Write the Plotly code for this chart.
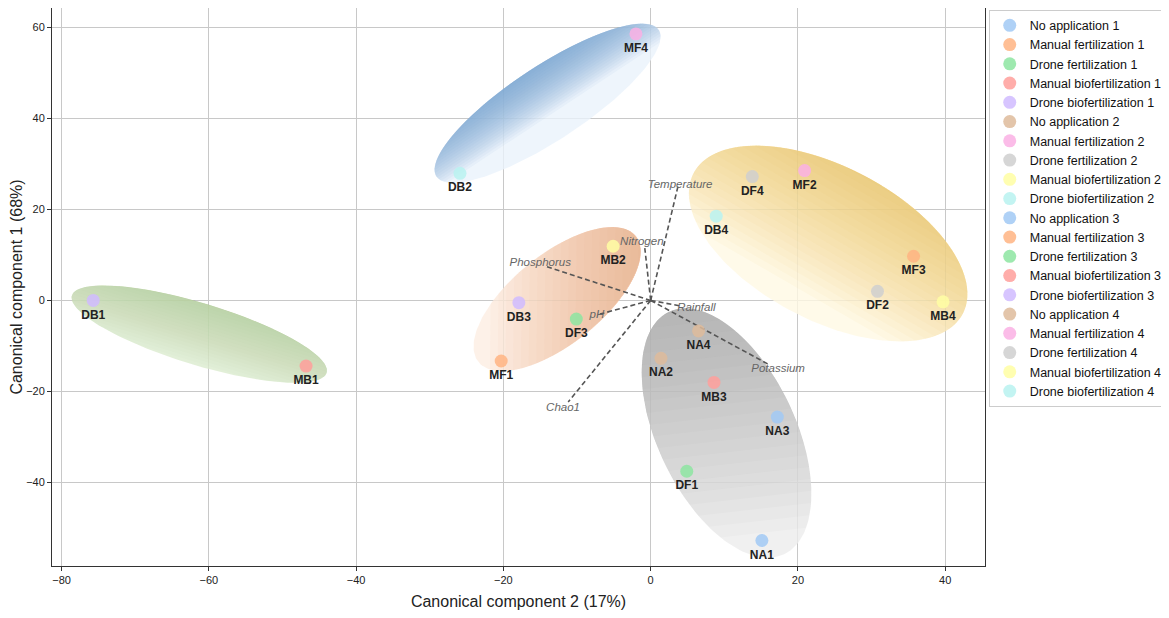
import numpy as np
import plotly.graph_objects as go

# sample scores on the two canonical components
sample_codes = ["NA1", "MF1", "DF1", "MB1", "DB1",
                "NA2", "MF2", "DF2", "MB2", "DB2",
                "NA3", "MF3", "DF3", "MB3", "DB3",
                "NA4", "MF4", "DF4", "MB4", "DB4"]
legend_names = ["No application 1", "Manual fertilization 1", "Drone fertilization 1",
                "Manual biofertilization 1", "Drone biofertilization 1",
                "No application 2", "Manual fertilization 2", "Drone fertilization 2",
                "Manual biofertilization 2", "Drone biofertilization 2",
                "No application 3", "Manual fertilization 3", "Drone fertilization 3",
                "Manual biofertilization 3", "Drone biofertilization 3",
                "No application 4", "Manual fertilization 4", "Drone fertilization 4",
                "Manual biofertilization 4", "Drone biofertilization 4"]
cc2 = [15.1, -20.3, 4.9, -46.8, -75.7,
       1.4, 20.9, 30.8, -5.1, -25.9,
       17.2, 35.7, -10.1, 8.6, -17.9,
       6.5, -2.0, 13.8, 39.7, 8.9]
cc1 = [-52.7, -13.3, -37.5, -14.4, 0.0,
       -12.7, 28.5, 2.0, 11.9, 27.9,
       -25.6, 9.7, -4.1, -18.0, -0.5,
       -6.7, 58.5, 27.2, -0.3, 18.5]

# environmental vectors (arrow tips and label anchors)
env_names = ["Temperature", "Nitrogen", "Phosphorus", "pH", "Rainfall", "Potassium", "Chao1"]
env_x = [3.7, -0.8, -14.1, -6.9, 4.0, 16.2, -11.2]
env_y = [25.0, 11.5, 7.4, -3.0, -1.2, -14.2, -22.3]
env_label_x = [4.0, -1.2, -15.0, -7.3, 6.2, 17.3, -11.9]
env_label_y = [25.3, 12.9, 8.2, -3.2, -1.6, -15.1, -23.7]

# group ellipses: centre, major and minor half-axis vectors (data units)
ell_cx = [-61.3, -14.0, -12.7, 24.1, 10.3]
ell_cy = [-7.4, 43.3, 0.3, 12.5, -29.1]
ell_major = [(17.3, -8.5), (15.1, 16.1), (10.7, 13.8), (18.3, -15.4), (7.83, -26.6)]
ell_minor = [(1.23, 6.5), (-2.8, 6.8), (-3.8, 7.75), (4.8, 15.0), (8.46, 6.5)]

pastel = ["#a1c9f4", "#ffb482", "#8de5a1", "#ff9f9b", "#d0bbff",
          "#debb9b", "#fab0e4", "#cfcfcf", "#fffea3", "#b9f2f0"]

# ellipse shading: light base, dark side, direction of the dark side in the ellipse frame
ell_light = [(222, 238, 210), (234, 242, 251), (252, 238, 226), (255, 249, 228), (236, 236, 236)]
ell_dark = [(160, 202, 138), (95, 148, 205), (232, 150, 95), (225, 182, 80), (135, 135, 135)]
ell_grad_deg = [90, 90, -20, 85, 170]
ell_grad_start = [-1.0, -0.3, -0.8, -0.7, -0.8]
ell_layer_alpha = [0.03, 0.06, 0.04, 0.045, 0.032]

fig = go.Figure()

n_layers = 20
for k in range(len(ell_cx)):
    cx, cy = ell_cx[k], ell_cy[k]
    mx, my = ell_major[k]
    nx, ny = ell_minor[k]
    t = np.linspace(0, 2 * np.pi, 181)
    ex = cx + mx * np.cos(t) + nx * np.sin(t)
    ey = cy + my * np.cos(t) + ny * np.sin(t)
    lr, lg, lb = ell_light[k]
    fig.add_trace(go.Scatter(x=ex, y=ey, mode="lines", fill="toself",
                             fillcolor=f"rgba({lr},{lg},{lb},0.8)",
                             line=dict(width=0), hoverinfo="skip", showlegend=False))
    # stacked caps towards the dark side give a linear shading
    phi = np.deg2rad(ell_grad_deg[k])
    dr, dg, db = ell_dark[k]
    for th in np.linspace(ell_grad_start[k], 0.97, n_layers):
        half = np.arccos(th)
        s = np.linspace(phi - half, phi + half, 90)
        px = cx + mx * np.cos(s) + nx * np.sin(s)
        py = cy + my * np.cos(s) + ny * np.sin(s)
        fig.add_trace(go.Scatter(x=px, y=py, mode="lines", fill="toself",
                                 fillcolor=f"rgba({dr},{dg},{db},{ell_layer_alpha[k]})",
                                 line=dict(width=0), hoverinfo="skip", showlegend=False))

# dashed vectors from the origin
for i in range(len(env_names)):
    fig.add_trace(go.Scatter(x=[0, env_x[i]], y=[0, env_y[i]], mode="lines",
                             line=dict(color="#555555", width=1.6, dash="5px,3px"),
                             hoverinfo="skip", showlegend=False))

for i in range(len(sample_codes)):
    fig.add_trace(go.Scatter(
        x=[cc2[i]], y=[cc1[i]], mode="markers+text", name=legend_names[i],
        marker=dict(size=13, color=pastel[i % 10], opacity=0.85),
        text=[f"<b>{sample_codes[i]}</b>"], textposition="bottom center",
        textfont=dict(family="Liberation Sans", size=12, color="#222222"),
    ))

fig.add_trace(go.Scatter(x=env_label_x, y=env_label_y, mode="text",
                         text=[f"<i>{n}</i>" for n in env_names],
                         textfont=dict(family="Liberation Sans", size=11.5, color="#666666"),
                         hoverinfo="skip", showlegend=False))

axis_style = dict(showgrid=True, gridcolor="#c8c8c8", gridwidth=1, zeroline=False,
                  showline=True, mirror=True, linecolor="#333333", linewidth=1,
                  ticks="outside", ticklen=4, tickcolor="#333333",
                  tickfont=dict(size=11, color="#222222"), dtick=20,
                  title_font=dict(size=16, color="#222222"), automargin=False)

# the page body adds an 8px offset, so the figure is a bit smaller than the window
fig.update_layout(
    width=1161, height=610,
    margin=dict(l=44, r=184, t=0, b=52),
    paper_bgcolor="white", plot_bgcolor="white",
    font=dict(family="Liberation Sans", color="#222222"),
    legend=dict(x=1.004, y=0.997, xanchor="left", yanchor="top",
                bordercolor="#cccccc", borderwidth=1, bgcolor="white",
                font=dict(size=12.5, color="#111111"), tracegroupgap=0),
)
fig.update_xaxes(range=[-81.3, 45.4], title_text="Canonical component 2 (17%)",
                 title_standoff=10, **axis_style)
fig.update_yaxes(range=[-58.3, 64.2], title_text="Canonical component 1 (68%)",
                 title_standoff=4, **axis_style)

fig.write_html("out.html")
